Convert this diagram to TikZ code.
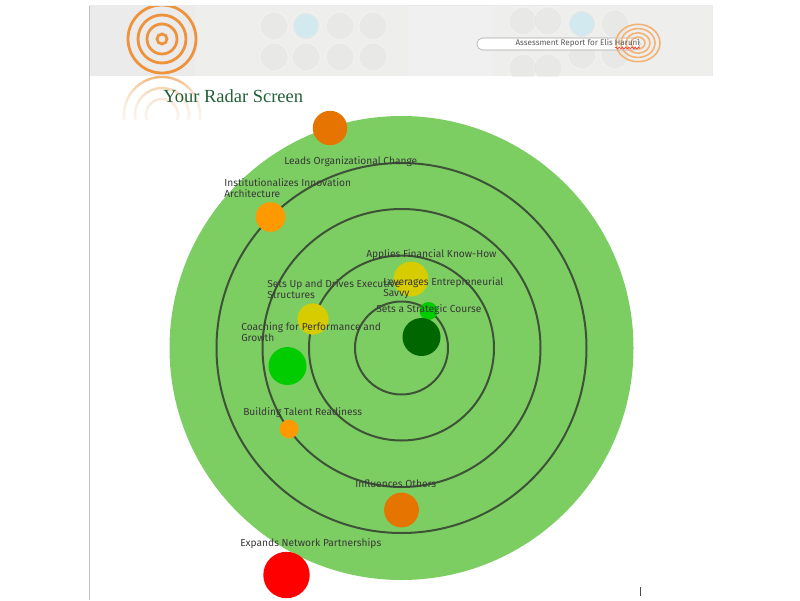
\documentclass[tikz,border=0pt]{standalone}
\usepackage{fontspec}
\setmainfont{Liberation Serif}
\setsansfont{Fira Sans}
\usetikzlibrary{decorations.pathmorphing}
\definecolor{radargreen}{RGB}{125,206,98}
\definecolor{ringgray}{RGB}{62,82,56}
\definecolor{logoorange}{RGB}{238,146,60}
\definecolor{titlegreen}{RGB}{36,96,56}
\definecolor{panelgray}{RGB}{238,238,236}
\definecolor{blipdark}{RGB}{0,102,0}
\definecolor{blipgreen}{RGB}{0,204,0}
\definecolor{blipyellow}{RGB}{214,204,0}
\definecolor{bliporange}{RGB}{255,153,0}
\definecolor{blipburnt}{RGB}{230,116,0}
\tikzset{
    blip/.style={circle,inner sep=0pt,fill=#1},
    tag/.style={anchor=west,align=left,font=\sffamily\fontsize{7.25pt}{8.2pt}\selectfont,text=black!78,inner sep=0pt},
    gauge/.style={draw=white,fill=black!14,line width=0.3mm,opacity=0.3}
}
\begin{document}
\begin{tikzpicture}[x=0.25mm,y=-0.25mm]
    \useasboundingbox (0,0) rectangle (800,600);
    \fill[panelgray] (89,5) rectangle (712,76);
    \fill[black!8] (89,5) rectangle (195,76);
    \fill[black!6] (408,5) rectangle (492,76);
    \begin{scope}
        \clip (89,5) rectangle (712,76);
        \foreach \gx/\gy in {274/26,306/26,340/26,373/26,274/57,306/57,340/57,373/57,523/21,548/21,582/24,615/24,523/68,548/68,582/55,615/55}
            \draw[gauge] (\gx,\gy) circle (14);
        \fill[cyan!25,opacity=0.5] (306,26) circle (12);
        \fill[cyan!25,opacity=0.5] (582,24) circle (12);
        \foreach \rr in {34,24,15,5}
            \draw[logoorange,line width=0.7mm] (162,39) circle (\rr);
    \end{scope}
    \draw[black!25] (89,5) -- (89,600);
    \draw[black!8] (89,5) -- (712,5) -- (712,76);
    \begin{scope}
        \clip (120,76) rectangle (210,122);
        \foreach \rr in {38,27,16}
            \draw[logoorange!70,line width=0.6mm] (162,115) circle (\rr);
        \foreach \yy in {78,81,...,120}
            \fill[white,opacity=0.15] (118,\yy) rectangle (212,124);
        \fill[white] (118,120) rectangle (212,124);
    \end{scope}
    \draw[black!35,fill=white,rounded corners=1.4mm] (477,38) rectangle (640,50);
    \foreach \rr in {22,17,12,7}
        \draw[logoorange!70,line width=0.4mm] (638,43) ellipse ({\rr} and {\rr*0.85});
    \node[anchor=east,inner sep=0pt,text=black!65,font=\sffamily\fontsize{5.75pt}{6pt}\selectfont] (reportlabel) at (640,43) {Assessment Report for Elis Haruni};
    \draw[red!80,line width=0.15mm,decorate,decoration={snake,amplitude=0.25mm,segment length=0.8mm}] (615,48) -- (640,48);
    \node[anchor=west,inner sep=0pt,text=titlegreen,font=\fontsize{13.15pt}{14pt}\selectfont] (title) at (163,96) {Your Radar Screen};
    \fill[radargreen] (401.5,348) circle (232);
    \foreach \rr in {46.5,92.5,139,185}
        \draw[ringgray,line width=0.5mm] (401.5,348) circle (\rr);
    \node[blip=blipburnt,minimum size=8.6mm] (leads) at (330,128) {};
    \node[blip=bliporange,minimum size=7.4mm] (innovation) at (270.5,217) {};
    \node[blip=blipyellow,minimum size=8.7mm] (financial) at (411,279) {};
    \node[blip=blipyellow,minimum size=7.8mm] (executive) at (313,319) {};
    \node[blip=blipgreen,minimum size=4.5mm] (entrepreneurial) at (428.5,311) {};
    \node[blip=blipdark,minimum size=9.5mm] (strategic) at (421.5,337) {};
    \node[blip=blipgreen,minimum size=9.5mm] (coaching) at (287.5,366) {};
    \node[blip=bliporange,minimum size=4.7mm] (talent) at (289,429) {};
    \node[blip=blipburnt,minimum size=8.7mm] (influences) at (401.5,510) {};
    \node[blip=red,minimum size=11.6mm] (network) at (286.5,575) {};
    \node[tag] (leadslabel) at (284,162) {Leads Organizational Change};
    \node[tag,anchor=north west] (innovationlabel) at (224,178) {Institutionalizes Innovation\\Architecture};
    \node[tag] (financiallabel) at (366,254.5) {Applies Financial Know-How};
    \node[tag,anchor=north west] (entrepreneuriallabel) at (383,277) {Leverages Entrepreneurial\\Savvy};
    \node[tag] (strategiclabel) at (376,310) {Sets a Strategic Course};
    \node[tag,anchor=north west] (executivelabel) at (267,279) {Sets Up and Drives Executive\\Structures};
    \node[tag,anchor=north west] (coachinglabel) at (241,322) {Coaching for Performance and\\Growth};
    \node[tag] (talentlabel) at (243,412.5) {Building Talent Readiness};
    \node[tag] (influenceslabel) at (355,484) {Influences Others};
    \node[tag] (networklabel) at (240,543.5) {Expands Network Partnerships};
    \draw[black!70] (640,587) -- (640,596);
\end{tikzpicture}
\end{document}
